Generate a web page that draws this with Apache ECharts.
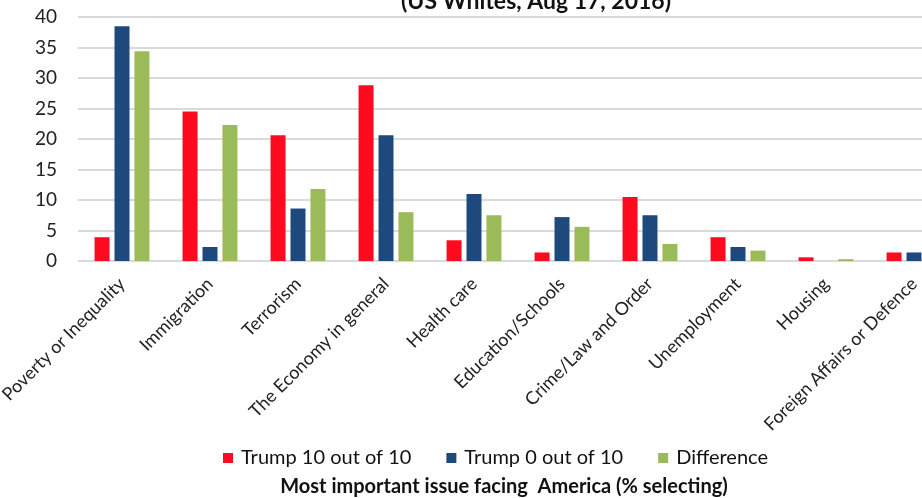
<!DOCTYPE html>
<html>
<head>
<meta charset="utf-8">
<script src="https://cdn.jsdelivr.net/npm/echarts@6/dist/echarts.min.js"></script>
<style>
  html, body { margin: 0; padding: 0; background: #fff; }
  #chart { width: 922px; height: 498px; }
</style>
</head>
<body>
<div id="chart"></div>
<script>
// issues
var categories = [
  "Poverty or Inequality",
  "Immigration",
  "Terrorism",
  "The Economy in general",
  "Health care",
  "Education/Schools",
  "Crime/Law and Order",
  "Unemployment",
  "Housing",
  "Foreign Affairs or Defence"
];
// % selecting
var trump10 = [3.9, 24.5, 20.6, 28.8, 3.4, 1.4, 10.5, 3.9, 0.6, 1.4];
var trump0 = [38.5, 2.3, 8.6, 20.6, 11.0, 7.2, 7.5, 2.3, 0, 1.4];
var difference = [34.4, 22.3, 11.8, 8.0, 7.5, 5.6, 2.8, 1.7, 0.3, 0];
var yTicks = [0, 5, 10, 15, 20, 25, 30, 35, 40];

var FONT = "Lato";
var myecharts = echarts.init(document.getElementById("chart"));
var Option = {
  animation: false,
  textStyle: { fontFamily: FONT },
  title: [
    {
      // top of the title is cut off in the source picture
      text: "(US Whites, Aug 17, 2016)",
      left: 396,
      top: -15,
      textStyle: { fontSize: 23, fontWeight: "bold", color: "#111", fontFamily: FONT }
    },
    {
      text: "Most important issue facing  America (% selecting)",
      left: 499,
      textAlign: "center",
      top: 472,
      textStyle: { fontSize: 20, fontWeight: "bold", color: "#111", fontFamily: FONT }
    }
  ],
  legend: {
    left: 223,
    top: 448,
    padding: 0,
    itemWidth: 10,
    itemHeight: 10,
    itemGap: 35,
    icon: "rect",
    textStyle: { fontSize: 20, color: "#111", fontFamily: FONT, padding: [0, 0, 0, 3] },
    data: ["Trump 10 out of 10", "Trump 0 out of 10", "Difference"]
  },
  grid: {
    left: 78,
    top: 17,
    width: 880,
    height: 244,
    outerBoundsMode: "none",
    containLabel: false
  },
  xAxis: {
    type: "category",
    data: categories,
    axisLine: { show: false },
    axisTick: { show: false },
    axisLabel: {
      rotate: 45,
      interval: 0,
      fontSize: 18,
      color: "#222",
      margin: 20
    }
  },
  yAxis: {
    type: "value",
    min: yTicks[0],
    max: yTicks[yTicks.length - 1],
    interval: yTicks[1] - yTicks[0],
    axisLine: { show: false },
    axisTick: { show: false },
    axisLabel: { fontSize: 19, color: "#222", margin: 21 },
    splitLine: { lineStyle: { color: "#dadada", width: 2 } }
  },
  series: [
    {
      name: "Trump 10 out of 10",
      type: "bar",
      data: trump10,
      barWidth: 15,
      barGap: "33%",
      barCategoryGap: "37%",
      itemStyle: { color: "#ff0a1e" }
    },
    {
      name: "Trump 0 out of 10",
      type: "bar",
      data: trump0,
      barWidth: 15,
      barGap: "33%",
      barCategoryGap: "37%",
      itemStyle: { color: "#1f497d" }
    },
    {
      name: "Difference",
      type: "bar",
      data: difference,
      barWidth: 15,
      barGap: "33%",
      barCategoryGap: "37%",
      itemStyle: { color: "#9bbb59" }
    }
  ]
};
myecharts.setOption(Option);
</script>
</body>
</html>
